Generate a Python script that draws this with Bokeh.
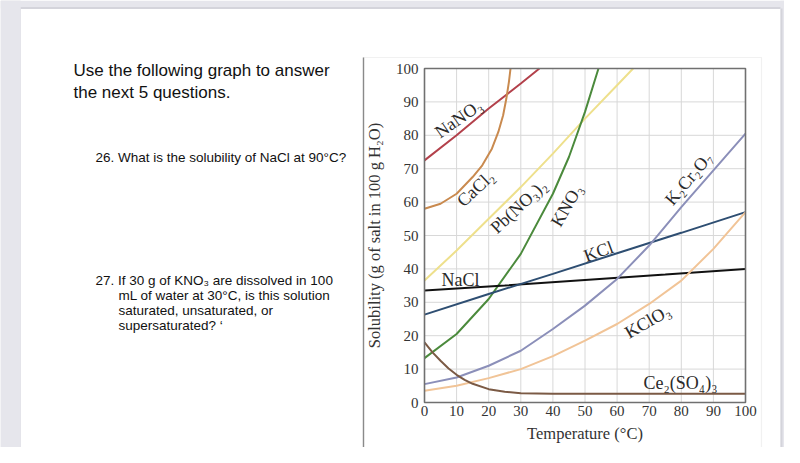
from bokeh.plotting import figure
from bokeh.models import Range1d, FixedTicker, Label, BoxAnnotation
from bokeh.embed import file_html
from bokeh.resources import INLINE
import math

# ---------------- data ----------------
ticks = [0, 10, 20, 30, 40, 50, 60, 70, 80, 90, 100]

nano3_t = [0, 10, 20, 30, 35.8]
nano3_s = [72.5, 80, 88, 95.5, 100]

cacl2_t = [0, 5, 10, 15, 18, 21, 23, 24.5, 25.5, 26.3, 26.8]
cacl2_s = [58, 59.5, 62.5, 67.5, 71, 76, 81, 86, 91, 96, 100]

pbno32_t = [0, 10, 20, 30, 40, 50, 60, 65]
pbno32_s = [36.5, 45.5, 55, 64.5, 74.5, 85, 95, 100]

kno3_t = [0, 10, 20, 30, 40, 45, 50, 54.2]
kno3_s = [13.3, 20.5, 31, 44.5, 62.5, 73.5, 87, 100]

nacl_t = [0, 25, 50, 75, 100]
nacl_s = [33.5, 35, 36.7, 38.3, 40]

kcl_t = [0, 20, 40, 60, 80, 100]
kcl_s = [26.3, 32.5, 38.5, 44.7, 50.8, 57]

k2cr2o7_t = [0, 10, 20, 30, 40, 50, 60, 70, 80, 90, 100]
k2cr2o7_s = [5.5, 7.5, 11, 15.5, 22, 29, 37, 47, 58.5, 69.5, 80.5]

kclo3_t = [0, 10, 20, 30, 40, 50, 60, 70, 80, 90, 100]
kclo3_s = [3.5, 5, 7.3, 10, 13.9, 18.5, 23.5, 29.5, 36.5, 46, 57]

ce2so43_t = [0, 2.5, 5, 7.5, 10, 12.5, 15, 20, 25, 30, 40, 100]
ce2so43_s = [18, 15, 12.5, 10.2, 8.3, 6.8, 5.6, 4, 3.2, 2.8, 2.6, 2.6]

series_names = ["NaNO\u2083", "CaCl\u2082", "Pb(NO\u2083)\u2082", "KNO\u2083", "NaCl",
                "KCl", "K\u2082Cr\u2082O\u2087", "KClO\u2083", "Ce\u2082(SO\u2084)\u2083"]

question_lines = [
    "Use the following graph to answer",
    "the next 5 questions.",
]
q26 = "26. What is the solubility of NaCl at 90\u00b0C?"
q27 = ["27. If 30 g of KNO\u2083 are dissolved in 100",
       "mL of water at 30\u00b0C, is this solution",
       "saturated, unsaturated, or",
       "supersaturated? \u2018"]

# ---------------- figure ----------------
W, H = 784, 447

# canvas pixel -> data helpers (chart box: x 424..745, y 68..402 on the canvas)
def X(px):
    return (px - 424) / 3.21

def Y(py):
    return (402 - py) / 3.34

strip = "#e6e6ec"
edge = "#d4d4db"

p = figure(width=W, height=H, output_backend="svg", toolbar_location=None,
           x_range=Range1d(X(0), X(W)), y_range=Range1d(Y(H), Y(0)),
           min_border=0, min_border_left=0, min_border_right=0,
           min_border_top=0, min_border_bottom=0)

p.background_fill_color = "white"
p.border_fill_color = strip
p.outline_line_color = None
p.xgrid.visible = False
p.ygrid.visible = False

SERIF = "Liberation Serif"
for ax in (p.xaxis, p.yaxis):
    ax.ticker = FixedTicker(ticks=ticks)
    ax.bounds = (ticks[0], ticks[-1])
    ax.fixed_location = 0
    ax.axis_line_color = None
    ax.major_tick_line_color = None
    ax.minor_tick_line_color = None
    ax.major_tick_out = 0
    ax.major_tick_in = 0
    ax.minor_tick_out = 0
    ax.minor_tick_in = 0
    ax.major_label_text_font = SERIF
    ax.major_label_text_font_size = "15px"
    ax.major_label_text_color = "#333333"
    ax.axis_label_text_font = SERIF
    ax.axis_label_text_font_size = "16.5px"
    ax.axis_label_text_font_style = "normal"
    ax.axis_label_text_color = "#333333"

p.xaxis.axis_label = "Temperature (\u00b0C)"
p.yaxis.axis_label = "Solubility (g of salt in 100 g H\u2082O)"
p.xaxis.major_label_standoff = 3
p.yaxis.major_label_standoff = 6
p.xaxis.axis_label_standoff = 5
p.yaxis.axis_label_standoff = 9

# background decoration: grey strips of the page
p.quad(left=[X(0), X(0), X(780)], right=[X(W), X(20), X(W)],
       bottom=[Y(8), Y(H), Y(H)], top=[Y(0), Y(0), Y(0)],
       fill_color=strip, line_color=None)
p.quad(left=[X(17), X(20), X(780)], right=[X(20), X(780), X(782)],
       bottom=[Y(H), Y(8.5), Y(H)], top=[Y(8), Y(6.5), Y(8)],
       fill_color=edge, line_color=None)
p.add_layout(BoxAnnotation(left=None, right=X(20), bottom=None, top=None,
                           fill_color=strip, fill_alpha=1, line_color=None, level="overlay"))

# light frame around the chart picture
p.add_layout(BoxAnnotation(left=X(363), right=X(761), bottom=Y(450), top=Y(57),
                           fill_alpha=0, line_color="#d2d2d2", line_width=1.2, level="underlay"))
p.add_layout(BoxAnnotation(left=X(362.3), right=X(363.7), bottom=Y(450), top=Y(57),
                           fill_color="#8a8a8a", fill_alpha=1, line_color=None, level="underlay"))

# grid lines at the tick values, then the chart box
lo, hi = ticks[0], ticks[-1]
p.segment(x0=ticks, y0=[lo] * len(ticks), x1=ticks, y1=[hi] * len(ticks),
          line_color="#d8d8d8", line_width=1)
p.segment(x0=[lo] * len(ticks), y0=ticks, x1=[hi] * len(ticks), y1=ticks,
          line_color="#d8d8d8", line_width=1)

# curves
curves = [
    (nano3_t, nano3_s, "#b3414b"),
    (cacl2_t, cacl2_s, "#c98a4f"),
    (pbno32_t, pbno32_s, "#eee08c"),
    (kno3_t, kno3_s, "#4b8a3c"),
    (nacl_t, nacl_s, "#111111"),
    (kcl_t, kcl_s, "#2e4e72"),
    (k2cr2o7_t, k2cr2o7_s, "#8b8fb9"),
    (kclo3_t, kclo3_s, "#f1c497"),
    (ce2so43_t, ce2so43_s, "#7b5a45"),
]
for t, s, c in curves:
    p.line(t, s, line_color=c, line_width=2)

p.quad(left=[lo], right=[hi], bottom=[lo], top=[hi], fill_color=None,
       line_color="#707070", line_width=1.6)

# curve labels: (canvas x, canvas y, angle deg)
label_pos = [
    (458, 118, 35), (475, 188, 43), (518, 206, 43), (566, 205, 60), (460, 279, 0),
    (598, 251, 20), (688, 178, 50), (647, 321, 30), (680, 382, 0),
]
for name, (px, py, ang) in zip(series_names, label_pos):
    p.add_layout(Label(x=X(px), y=Y(py), text=name, angle=math.radians(ang),
                       text_align="center", text_baseline="middle",
                       text_font=SERIF, text_font_size="18px", text_color="#2a2a2a"))

# question text on the left (vertical centres of the lines)
SANS = "Liberation Sans"
for i, line in enumerate(question_lines):
    p.add_layout(Label(x=X(73), y=Y(69.5 + 22.5 * i), text=line, text_align="left",
                       text_baseline="middle", text_font=SANS,
                       text_font_size="17px", text_color="#111111"))
p.add_layout(Label(x=X(95), y=Y(157), text=q26, text_align="left",
                   text_baseline="middle", text_font=SANS,
                   text_font_size="13.5px", text_color="#111111"))
for i, line in enumerate(q27):
    p.add_layout(Label(x=X(95 if i == 0 else 118), y=Y(279.5 + 15.3 * i), text=line,
                       text_align="left", text_baseline="middle", text_font=SANS,
                       text_font_size="13.5px", text_color="#111111"))

open("out.html", "w").write(file_html(p, INLINE))
